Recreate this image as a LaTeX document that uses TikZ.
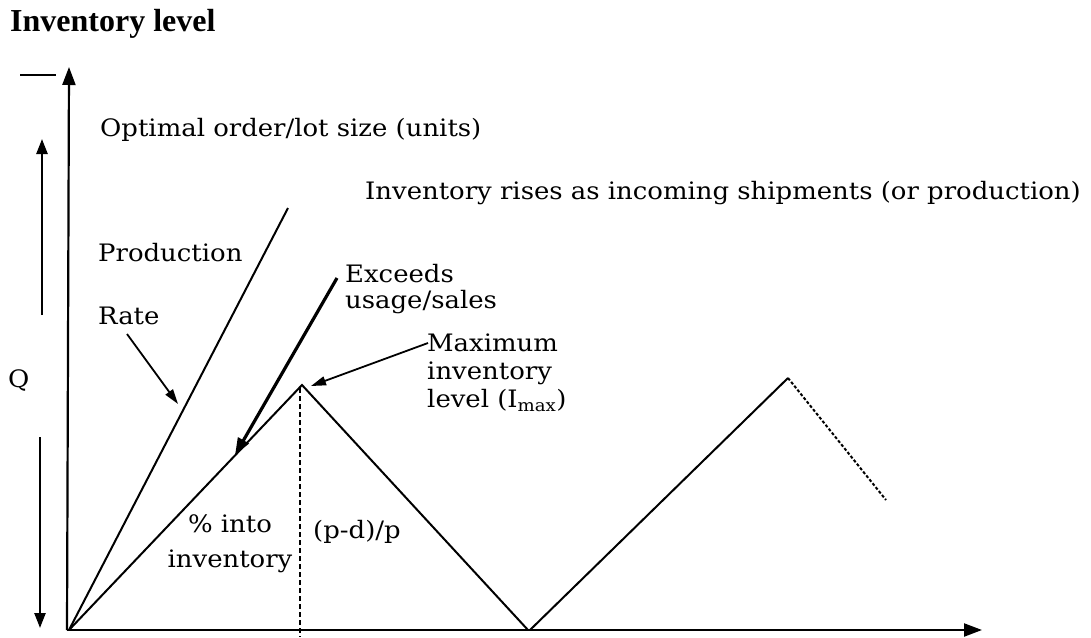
\documentclass[tikz,border=0pt]{standalone}
\usepackage{fontspec}
\setmainfont{DejaVu Serif}
\newfontfamily\lblfont[FakeStretch=1.08]{DejaVu Serif}
\newfontfamily\titlefont{Liberation Serif}
\usetikzlibrary{arrows.meta}
\tikzset{
  axis/.style={line width=2.2pt,-{Triangle[length=18pt,width=13pt]}},
  qarrow/.style={line width=2.4pt,-{Triangle[length=15pt,width=11pt]}},
  curve/.style={line width=2pt},
  pointer/.style={line width=1.8pt,-{Triangle[length=15pt,width=9pt]}},
  thickpointer/.style={line width=3.2pt,-{Triangle[length=17pt,width=12pt]}},
  lbl/.style={inner sep=0pt,font=\lblfont\fontsize{24}{27}\selectfont},
}
\begin{document}
\begin{tikzpicture}[x=1pt,y=-1pt]
\useasboundingbox (0,0) rectangle (1091,637);
% title
\node[inner sep=0pt,anchor=west,font=\titlefont\bfseries\fontsize{32}{36}\selectfont] (title) at (10,24) {Inventory level};
% axes
\coordinate (O) at (69,630);
\coordinate (ytop) at (69,67);
\coordinate (xend) at (982,630);
\draw[axis] (67,630) -- (ytop);
\draw[axis] (67,630) -- (xend);
\coordinate (tl) at (20,75);
\coordinate (tr) at (56,75);
\draw[line width=2.2pt] (tl) -- (tr);
% Q arrows
\coordinate (qu1) at (42,315);
\coordinate (qu2) at (42,139);
\coordinate (qd1) at (40,437);
\coordinate (qd2) at (40,628);
\draw[qarrow] (qu1) -- (qu2);
\draw[qarrow] (qd1) -- (qd2);
\node[lbl,anchor=west] (Q) at (8,381) {Q};
% curves
\coordinate (prodtop) at (288,208);
\coordinate (peak1) at (302,385);
\coordinate (zero1) at (528,630);
\coordinate (zero2) at (530,630);
\coordinate (peak2) at (788,378);
\coordinate (dotend) at (886,500);
\coordinate (vtop) at (300,388);
\coordinate (vbot) at (300,637);
\draw[curve] (O) -- (prodtop);
\draw[curve] (O) -- (peak1) -- (zero1);
\draw[curve] (zero2) -- (peak2);
\draw[line width=2pt,dash pattern=on 3pt off 2pt] (peak2) -- (dotend);
\draw[line width=1.4pt,dash pattern=on 5pt off 3pt] (vtop) -- (vbot);
% labels
\node[lbl,anchor=west] (opt) at (100,130) {Optimal order/lot size (units)};
\node[lbl,anchor=west] (rises) at (365,193) {Inventory rises as incoming shipments (or production)};
\node[lbl,anchor=west] (prod) at (98,253) {Production};
\node[lbl,anchor=west] (rate) at (98,316) {Rate};
\node[lbl,anchor=west,align=left,font=\lblfont\fontsize{24}{26}\selectfont] (exc) at (345,289) {Exceeds\\usage/sales};
\node[lbl,anchor=west,align=left,font=\lblfont\fontsize{24}{28}\selectfont] (max) at (427,373) {Maximum\\inventory\\level (I\textsubscript{max})};
\node[lbl,align=center,font=\lblfont\fontsize{24}{35}\selectfont] (into) at (230,544) {\% into\\inventory};
\node[lbl,anchor=west] (pdp) at (313,532) {(p-d)/p};
% pointers
\coordinate (rs) at (127,334);
\coordinate (re) at (178,404);
\draw[pointer] (rs) -- (re);
\coordinate (es) at (337,278);
\coordinate (ee) at (235,455);
\draw[thickpointer] (es) -- (ee);
\coordinate (ms) at (428,343);
\coordinate (me) at (311,386);
\draw[pointer] (ms) -- (me);
\end{tikzpicture}
\end{document}
